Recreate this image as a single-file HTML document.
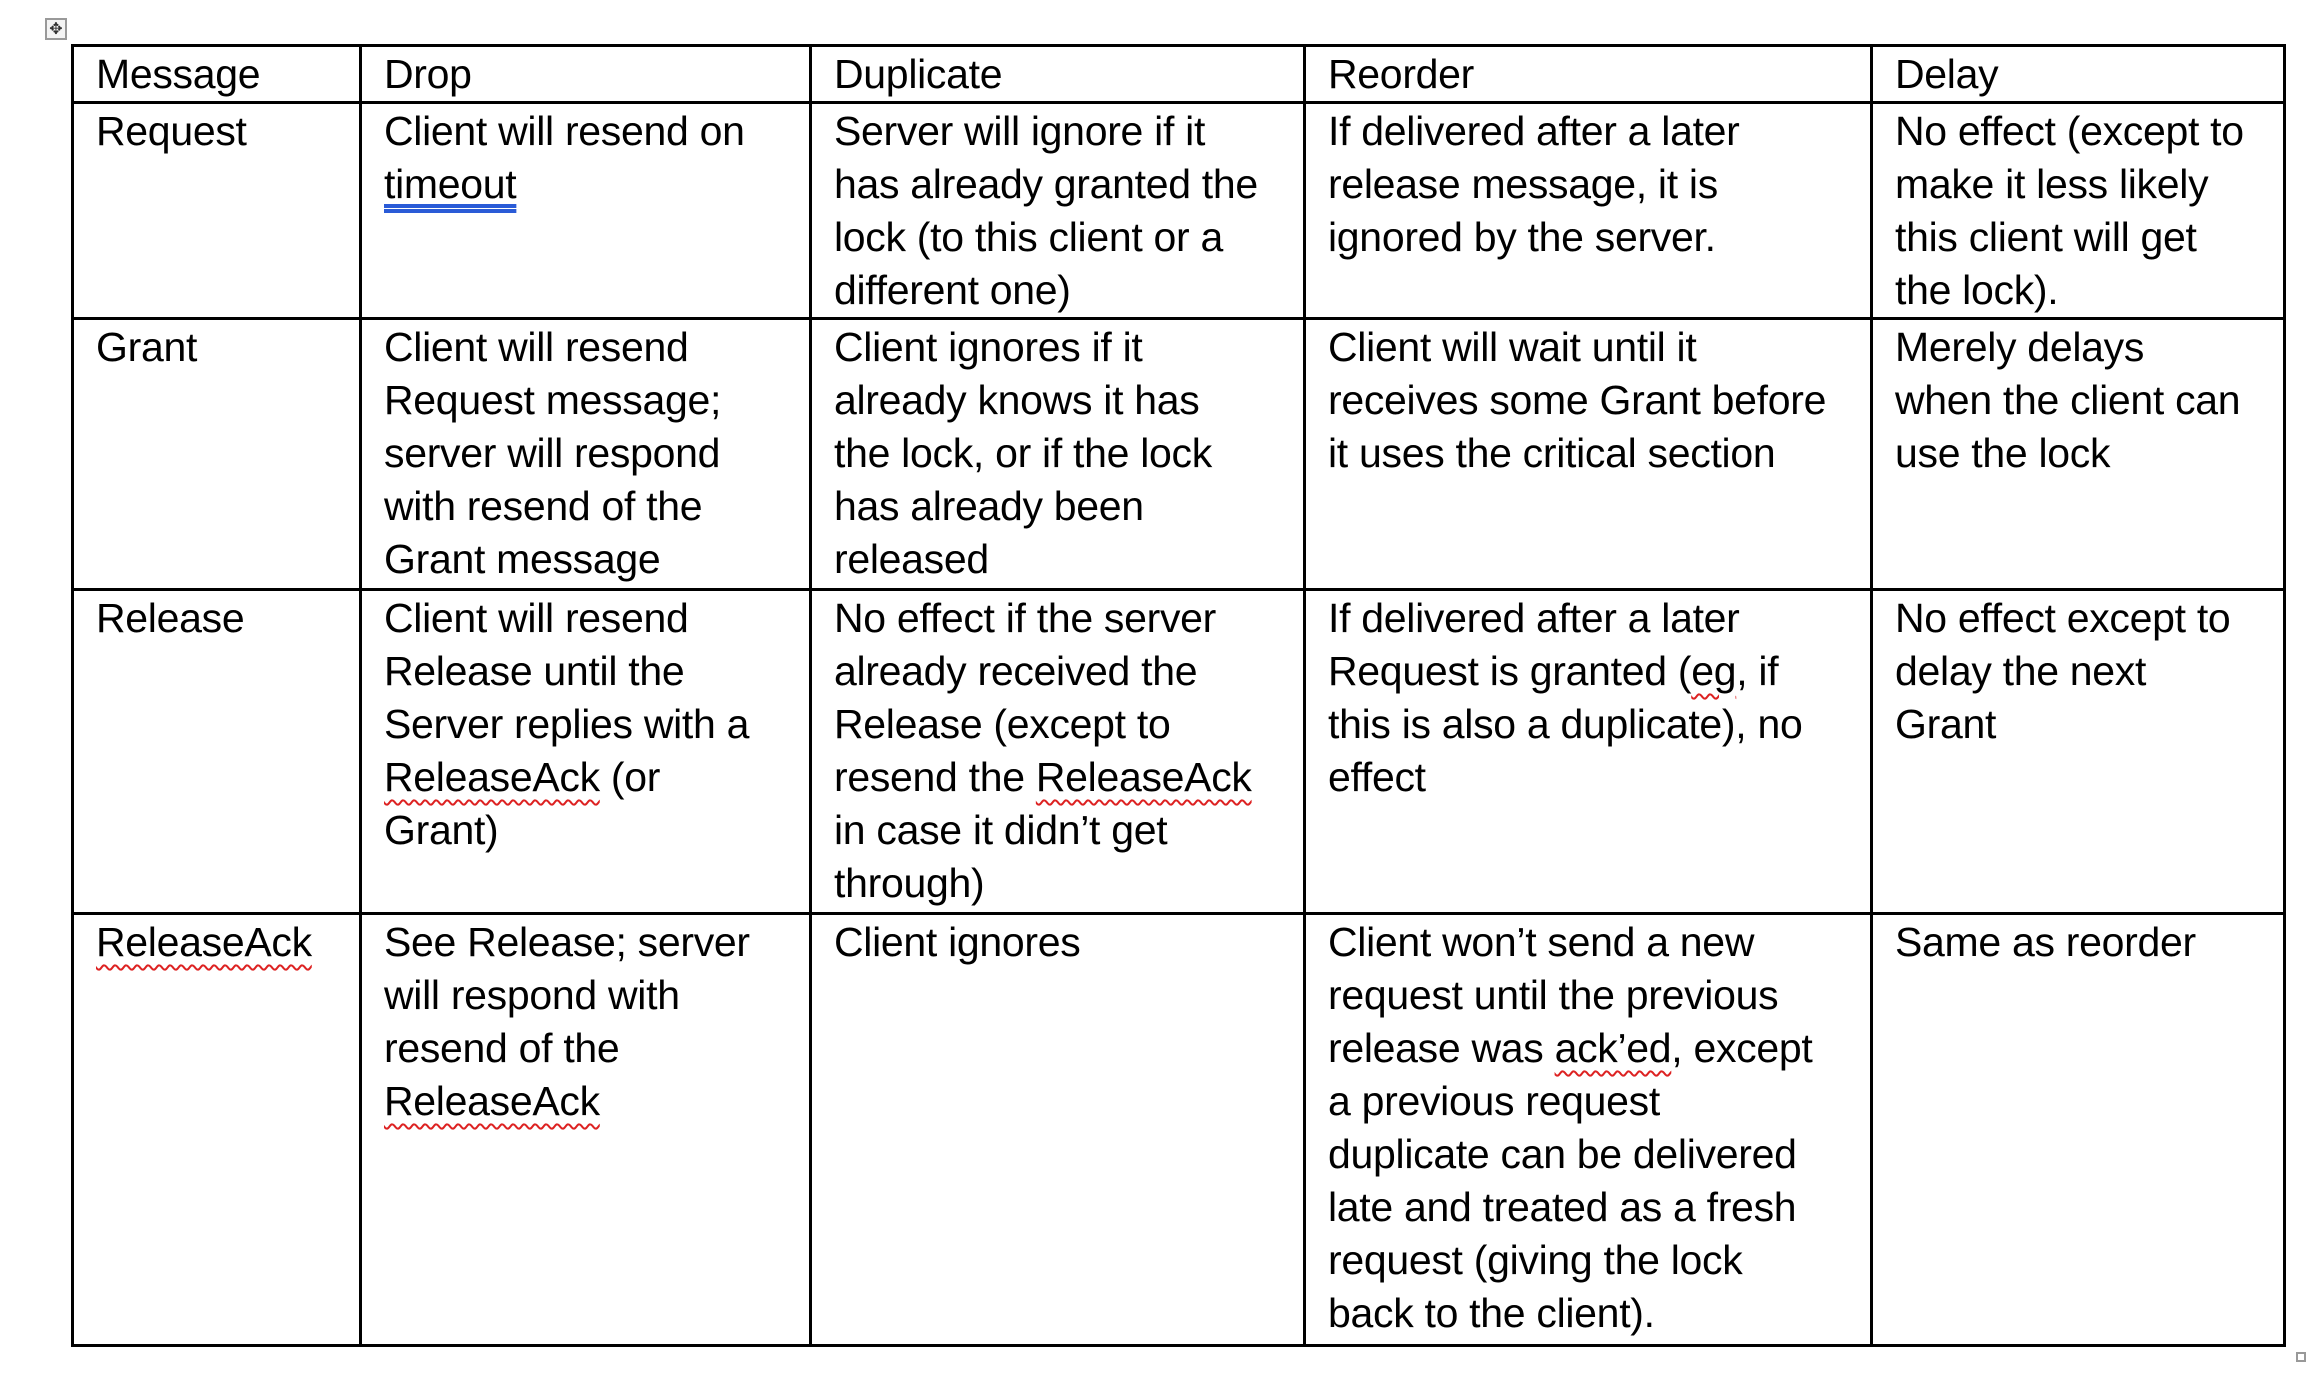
<!DOCTYPE html>
<html><head><style>
body{margin:0;width:2314px;height:1390px;background:#fff;position:relative;overflow:hidden}
table{position:absolute;left:71px;top:44px;width:2212px;border-collapse:collapse;table-layout:fixed;font-family:"Liberation Sans",sans-serif;font-size:41px;line-height:53px;color:#000;letter-spacing:-0.3px}
td{border:3px solid #000;vertical-align:top;padding:1px 4px 0 22px;white-space:nowrap;overflow:hidden}
.w{text-decoration:underline wavy #d22;text-decoration-thickness:2px;text-underline-offset:8px}
.d{text-decoration:underline double #2a5bd7;text-underline-offset:6px}
.mv{position:absolute;left:45px;top:18px;width:22px;height:22px;border:2px solid #999;box-sizing:border-box;font:16px "DejaVu Sans",sans-serif;line-height:18px;text-align:center;color:#333;background:#f4f4f4}
.rs{position:absolute;left:2296px;top:1352px;width:10px;height:10px;border:2px solid #999;box-sizing:border-box}
</style></head><body>
<div class="mv">✥</div>
<table>
<colgroup><col style="width:288px"><col style="width:450px"><col style="width:494px"><col style="width:567px"><col style="width:413px"></colgroup>
<tr style="height:53px"><td>Message</td><td>Drop</td><td>Duplicate</td><td>Reorder</td><td>Delay</td></tr>
<tr style="height:213px"><td>Request</td><td>Client will resend on<br><span class="d">timeout</span></td><td>Server will ignore if it<br>has already granted the<br>lock (to this client or a<br>different one)</td><td>If delivered after a later<br>release message, it is<br>ignored by the server.</td><td>No effect (except to<br>make it less likely<br>this client will get<br>the lock).</td></tr>
<tr style="height:271px"><td>Grant</td><td>Client will resend<br>Request message;<br>server will respond<br>with resend of the<br>Grant message</td><td>Client ignores if it<br>already knows it has<br>the lock, or if the lock<br>has already been<br>released</td><td>Client will wait until it<br>receives some Grant before<br>it uses the critical section</td><td>Merely delays<br>when the client can<br>use the lock</td></tr>
<tr style="height:324px"><td>Release</td><td>Client will resend<br>Release until the<br>Server replies with a<br><span class="w">ReleaseAck</span> (or<br>Grant)</td><td>No effect if the server<br>already received the<br>Release (except to<br>resend the <span class="w">ReleaseAck</span><br>in case it didn’t get<br>through)</td><td>If delivered after a later<br>Request is granted (<span class="w">eg</span>, if<br>this is also a duplicate), no<br>effect</td><td>No effect except to<br>delay the next<br>Grant</td></tr>
<tr style="height:432px"><td><span class="w">ReleaseAck</span></td><td>See Release; server<br>will respond with<br>resend of the<br><span class="w">ReleaseAck</span></td><td>Client ignores</td><td>Client won’t send a new<br>request until the previous<br>release was <span class="w">ack’ed</span>, except<br>a previous request<br>duplicate can be delivered<br>late and treated as a fresh<br>request (giving the lock<br>back to the client).</td><td>Same as reorder</td></tr>
</table>
<div class="rs"></div>
</body></html>
